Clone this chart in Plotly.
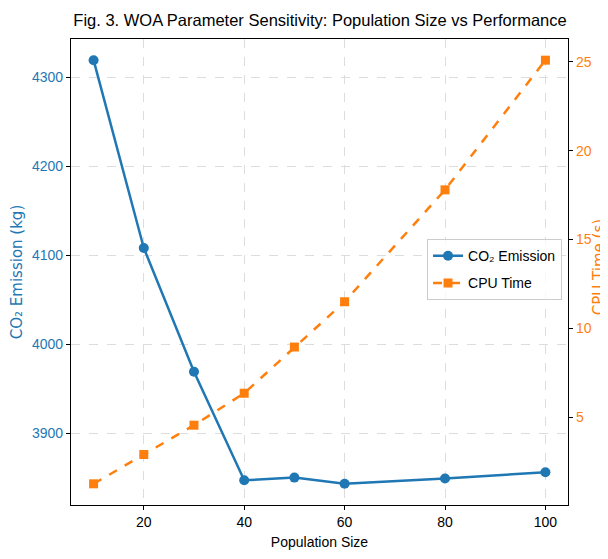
import plotly.graph_objects as go

pop_size = [10, 20, 30, 40, 50, 60, 80, 100]
co2_emission = [4319, 4108, 3969, 3847, 3850, 3843, 3849, 3856]
cpu_time = [1.25, 2.9, 4.55, 6.35, 8.95, 11.5, 17.8, 25.1]
x_ticks = [20, 40, 60, 80, 100]
co2_ticks = [3900, 4000, 4100, 4200, 4300]
cpu_ticks = [5, 10, 15, 20, 25]

BLUE = "#1f77b4"
ORANGE = "#ff7f0e"
NARROW = "Liberation Sans, Arial, sans-serif"
WIDE = "DejaVu Sans, sans-serif"

fig = go.Figure()
fig.add_trace(go.Scatter(
    x=pop_size, y=co2_emission, name="CO₂ Emission", mode="lines+markers", legendgroup="a",
    line=dict(color=BLUE, width=2.5), marker=dict(symbol="circle", size=10, color=BLUE),
    yaxis="y"))
fig.add_trace(go.Scatter(
    x=pop_size, y=cpu_time, name="CPU Time", mode="lines+markers", legendgroup="b",
    line=dict(color=ORANGE, width=2.5, dash="dash"), marker=dict(symbol="square", size=9, color=ORANGE),
    yaxis="y2"))

def rng(vals):
    lo, hi = min(vals), max(vals)
    m = (hi - lo) * 0.05
    return [lo - m, hi + m]

fig.update_layout(
    width=600, height=543,
    margin=dict(l=63, r=40, t=31, b=46, autoexpand=False),
    paper_bgcolor="white", plot_bgcolor="white",
    title=dict(text="Fig. 3. WOA Parameter Sensitivity: Population Size vs Performance",
               x=0.52, xanchor="center", y=0.978, yanchor="middle",
               font=dict(family=NARROW, size=16.5, color="black")),
    xaxis=dict(range=rng(pop_size), tickvals=x_ticks, showline=True, linecolor="black", linewidth=1.2,
               mirror=True, ticks="outside", ticklen=4, tickcolor="black", automargin=True,
               showgrid=True, gridcolor="#dddddd", griddash="dash", gridwidth=1, zeroline=False,
               tickfont=dict(family=NARROW, size=14, color="black"),
               title=dict(text="Population Size", font=dict(family=NARROW, size=14, color="black"), standoff=8)),
    yaxis=dict(range=rng(co2_emission), tickvals=co2_ticks, showline=True, linecolor="black", linewidth=1.2,
               mirror=True, ticks="outside", ticklen=4, tickcolor="black", automargin=True,
               showgrid=True, gridcolor="#dddddd", griddash="dash", gridwidth=1, zeroline=False,
               tickfont=dict(family=NARROW, size=14, color=BLUE),
               title=dict(text="CO₂ Emission (kg)", font=dict(family=WIDE, size=15, color=BLUE), standoff=8)),
    yaxis2=dict(range=rng(cpu_time), tickvals=cpu_ticks, overlaying="y", side="right",
                showline=True, linecolor="black", linewidth=1.2, ticks="outside", ticklen=4, tickcolor="black",
                showgrid=False, zeroline=False, automargin=True,
                tickfont=dict(family=NARROW, size=14, color=ORANGE)),
    legend=dict(x=0.988, y=0.505, xanchor="right", yanchor="middle", bgcolor="rgba(255,255,255,0.8)",
                bordercolor="#cccccc", borderwidth=1, font=dict(family=NARROW, size=14, color="black"),
                traceorder="grouped", tracegroupgap=6),
    showlegend=True,
)
fig.add_annotation(text="CPU Time (s)", xref="paper", yref="paper", x=1.064, y=0.51,
                   xanchor="center", yanchor="middle", textangle=-90, showarrow=False,
                   font=dict(family=WIDE, size=15, color=ORANGE))

fig.write_html("out.html")
